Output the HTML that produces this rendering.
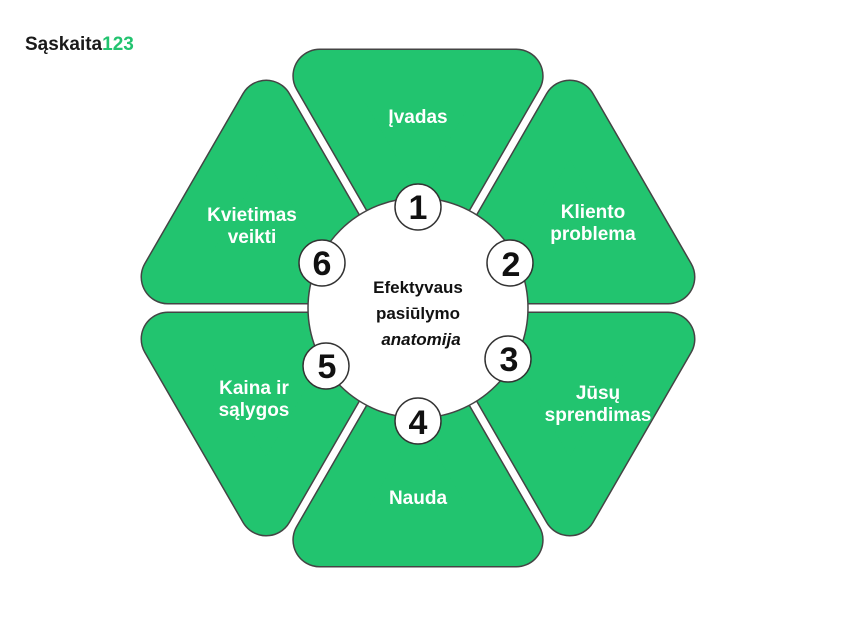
<!DOCTYPE html>
<html><head><meta charset="utf-8"><style>
html,body{margin:0;padding:0;background:#fff;}
svg{display:block;}
</style></head><body>
<svg width="845" height="623" viewBox="0 0 845 623" xmlns="http://www.w3.org/2000/svg">
<text x="25" y="50" font-family="Liberation Sans, sans-serif" font-weight="bold" font-size="19" fill="#1a1a1a">Sąskaita<tspan fill="#22c36f">123</tspan></text>
<g stroke-linejoin="round">
<g stroke="#444" stroke-width="55" fill="#444">
<polygon points="418,246 516.2,76 319.8,76"/>
<polygon points="471.7,277 668,277 569.8,107"/>
<polygon points="471.7,339 569.8,509 668,339"/>
<polygon points="418,370 319.8,540 516.2,540"/>
<polygon points="364.3,339 168,339 266.2,509"/>
<polygon points="364.3,277 266.2,107 168,277"/>
</g>
<g stroke="#22c46f" stroke-width="52" fill="#22c46f">
<polygon points="418,246 516.2,76 319.8,76"/>
<polygon points="471.7,277 668,277 569.8,107"/>
<polygon points="471.7,339 569.8,509 668,339"/>
<polygon points="418,370 319.8,540 516.2,540"/>
<polygon points="364.3,339 168,339 266.2,509"/>
<polygon points="364.3,277 266.2,107 168,277"/>
</g>
</g>
<circle cx="418" cy="308" r="110" fill="#fff" stroke="#444" stroke-width="1.5"/>
<g font-family="Liberation Sans, sans-serif" font-weight="bold" font-size="19" fill="#fff" text-anchor="middle">
<text x="418" y="123">Įvadas</text>
<text x="593" y="218">Kliento</text><text x="593" y="240">problema</text>
<text x="598" y="399">Jūsų</text><text x="598" y="421">sprendimas</text>
<text x="418" y="504">Nauda</text>
<text x="254" y="394">Kaina ir</text><text x="254" y="416">sąlygos</text>
<text x="252" y="221">Kvietimas</text><text x="252" y="243">veikti</text>
</g>
<g font-family="Liberation Sans, sans-serif" font-weight="bold" font-size="17" fill="#111" text-anchor="middle">
<text x="418" y="293">Efektyvaus</text>
<text x="418" y="319">pasiūlymo</text>
<text x="421" y="345" font-style="italic">anatomija</text>
</g>
<g stroke="#333" stroke-width="1.5" fill="#fff">
<circle cx="418" cy="207" r="23"/>
<circle cx="510" cy="263" r="23"/>
<circle cx="508" cy="359" r="23"/>
<circle cx="418" cy="421" r="23"/>
<circle cx="326" cy="366" r="23"/>
<circle cx="322" cy="263" r="23"/>
</g>
<g font-family="Liberation Sans, sans-serif" font-weight="bold" font-size="34" fill="#111" text-anchor="middle">
<text x="418" y="219">1</text>
<text x="511" y="276">2</text>
<text x="509" y="371">3</text>
<text x="418" y="434">4</text>
<text x="327" y="378">5</text>
<text x="322" y="275">6</text>
</g>
</svg>
</body></html>
